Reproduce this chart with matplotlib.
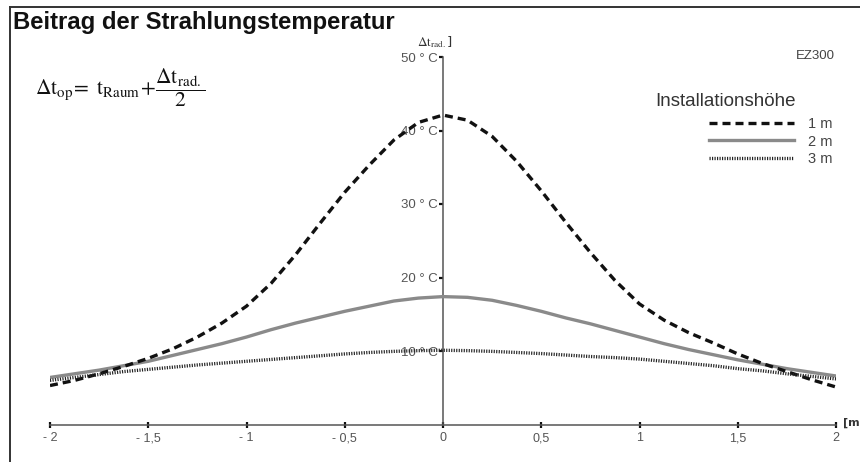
import numpy as np
import matplotlib.pyplot as plt
from matplotlib.lines import Line2D

plt.rcParams['mathtext.fontset'] = 'stix'

# abstand [m]
x = np.arange(-2, 2.0001, 0.125)

# strahlungstemperatur [°C] fuer die drei installationshoehen
h1m = [5.3, 6.0, 6.9, 7.9, 9.0, 10.3, 11.9, 13.8, 16.1, 19.2, 23.1, 27.4, 31.6, 35.3, 38.7, 41.1,
       42.1,
       41.4, 39.2, 35.8, 31.8, 27.5, 23.4, 19.6, 16.4, 14.2, 12.5, 11.1, 9.6, 8.3, 7.2, 6.1, 5.1]
h2m = [6.4, 6.9, 7.4, 8.0, 8.6, 9.4, 10.2, 11.0, 11.9, 12.9, 13.8, 14.6, 15.4, 16.1, 16.8, 17.2,
       17.4,
       17.3, 16.9, 16.2, 15.4, 14.5, 13.7, 12.8, 11.9, 11.0, 10.2, 9.5, 8.8, 8.2, 7.6, 7.1, 6.6]
h3m = [6.0, 6.4, 6.8, 7.2, 7.5, 7.8, 8.1, 8.35, 8.6, 8.85, 9.1, 9.35, 9.6, 9.8, 9.95, 10.05,
       10.1,
       10.05, 9.95, 9.8, 9.65, 9.45, 9.25, 9.1, 8.9, 8.6, 8.3, 8.0, 7.6, 7.3, 6.9, 6.55, 6.2]

labels = ['1 m', '2 m', '3 m']
xticks = [-2, -1.5, -1, -0.5, 0, 0.5, 1, 1.5, 2]
xticklabels = ['- 2', '- 1,5', '- 1', '- 0,5', '0', '0,5', '1', '1,5', '2']
yticks = [10, 20, 30, 40, 50]
yticklabels = ['10 ° C', '20 ° C', '30 ° C', '40 ° C', '50 ° C']

sans = ['Liberation Sans', 'DejaVu Sans']

fig = plt.figure(figsize=(8.6, 4.62), dpi=100)
ax = fig.add_axes([50 / 860, 37.5 / 462, 786 / 860, 367.5 / 462])

l1, = ax.plot(x, h1m, color='#111111', lw=2.4, dashes=(2.4, 1.5), zorder=5)
l2, = ax.plot(x, h2m, color='#8a8a8a', lw=2.4, zorder=4)
l3, = ax.plot(x, h3m, color='#222222', lw=2.4, dashes=(0.35, 0.4), zorder=5)

ax.set_xlim(-2, 2)
ax.set_ylim(0, 50)
ax.spines['top'].set_visible(False)
ax.spines['right'].set_visible(False)
ax.spines['left'].set_position(('data', 0))
for s in ['left', 'bottom']:
    ax.spines[s].set_color('#555555')
    ax.spines[s].set_linewidth(1.1)

ax.set_xticks(xticks)
ax.set_xticklabels(xticklabels, family=sans, fontsize=9, color='#555555')
ax.set_yticks(yticks)
ax.set_yticklabels(yticklabels, family=sans, fontsize=9.5, color='#555555')
ax.tick_params(axis='x', direction='inout', length=5, width=1.6, color='#111111', pad=3)
ax.tick_params(axis='y', direction='out', length=3, width=1.6, color='#111111', pad=1)
for t in ax.get_yticklabels():
    t.set_zorder(1)

ax.annotate(r'$\Delta\mathrm{t}_{\mathrm{rad.}}$]', xy=(0, 50), xytext=(-6, 5),
            textcoords='offset points', ha='center', va='bottom', fontsize=9.5, color='#333333',
            annotation_clip=False)
ax.annotate('[m', xy=(2, 0), xytext=(5, 1), textcoords='offset points', ha='left',
            va='center', fontsize=8, fontweight='bold', color='#333333', annotation_clip=False)

# rahmen oben und links
fig.add_artist(Line2D([10 / 860, 1], [1 - 7 / 462, 1 - 7 / 462], color='#333333', lw=1.4))
fig.add_artist(Line2D([10 / 860, 10 / 860], [0, 1 - 7 / 462], color='#333333', lw=1.4))

fig.text(13 / 860, 1 - 22 / 462, 'Beitrag der Strahlungstemperatur', fontsize=17.2,
         fontweight='bold', family=sans, color='#111111', va='center')
fig.text(35 / 860, 1 - 88 / 462,
         r'$\Delta\mathrm{t}_{\mathrm{op}}\!=\ \mathrm{t}_{\mathrm{Raum}}\!+\!\dfrac{\Delta\mathrm{t}_{\mathrm{rad.}}}{2}$',
         fontsize=15.5, color='#111111', va='center')
fig.text(835 / 860, 1 - 56 / 462, 'EZ300', fontsize=9.5, family=sans, color='#444444',
         ha='right', va='center')
fig.text(655 / 860, 1 - 102 / 462, 'Installationshöhe', fontsize=13.5, family=sans,
         color='#333333', va='center')

leg = fig.legend([l1, l2, l3], labels, loc='upper right', bbox_to_anchor=(840 / 860, 1 - 110 / 462),
                 frameon=False, labelcolor='#444444', handlelength=5.8,
                 handletextpad=1.0, labelspacing=0.22, borderpad=0, prop={'family': sans, 'size': 10.5})

plt.savefig('out.png', dpi=100)
